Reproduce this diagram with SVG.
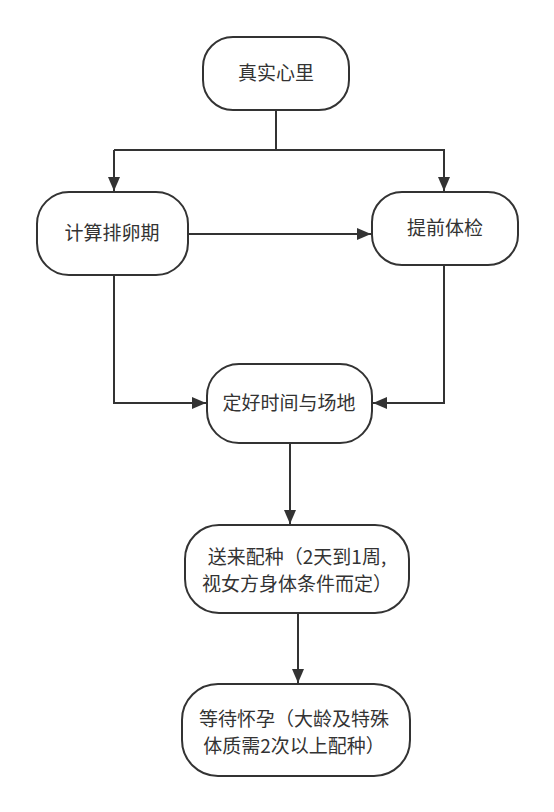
<svg xmlns="http://www.w3.org/2000/svg" width="554" height="812" viewBox="0 0 554 812">
<defs>
<marker id="ah" viewBox="0 0 14 12" refX="14" refY="6" markerWidth="14" markerHeight="12" markerUnits="userSpaceOnUse" orient="auto">
<path d="M0,0 L14,6 L0,12 Z" fill="#333"/>
</marker>
<style>
.n{fill:#fff;stroke:#333;stroke-width:2}
.t{font-family:"Noto Sans CJK SC","Noto Sans",sans-serif;font-size:19px;fill:#333;text-anchor:middle}
.l{fill:none;stroke:#333;stroke-width:2}
.c{fill:none;stroke:#333;stroke-width:2;marker-end:url(#ah)}
</style>
</defs>
<rect width="554" height="812" fill="#fff"/>
<g id="connectors">
<path d="M276,110 V150 H114" class="l"/>
<path d="M114,150 V191" class="c"/>
<path d="M276,150 H444 V191" class="c"/>
<path d="M188,234 H371" class="c"/>
<path d="M114,275 V403 H206" class="c"/>
<path d="M444,265 V403 H373" class="c"/>
<path d="M290,443 V524" class="c"/>
<path d="M298,613 V683" class="c"/>
</g>
<g id="n1"><rect class="n" x="203" y="37" width="146" height="73" rx="30"/><text class="t" x="276" y="80">真实心里</text></g>
<g id="n2"><rect class="n" x="37" y="192" width="151" height="83" rx="32"/><text class="t" x="112" y="240">计算排卵期</text></g>
<g id="n3"><rect class="n" x="372" y="192" width="146" height="73" rx="30"/><text class="t" x="445" y="235">提前体检</text></g>
<g id="n4"><rect class="n" x="207" y="364" width="165" height="79" rx="32"/><text class="t" x="289" y="410">定好时间与场地</text></g>
<g id="n5"><rect class="n" x="185" y="525" width="224" height="88" rx="34"/><text class="t" x="297" y="564">送来配种（2天到1周,</text><text class="t" x="297" y="591">视女方身体条件而定）</text></g>
<g id="n6"><rect class="n" x="182" y="684" width="228" height="92" rx="36"/><text class="t" x="294" y="726">等待怀孕（大龄及特殊</text><text class="t" x="294" y="753">体质需2次以上配种）</text></g>
</svg>
